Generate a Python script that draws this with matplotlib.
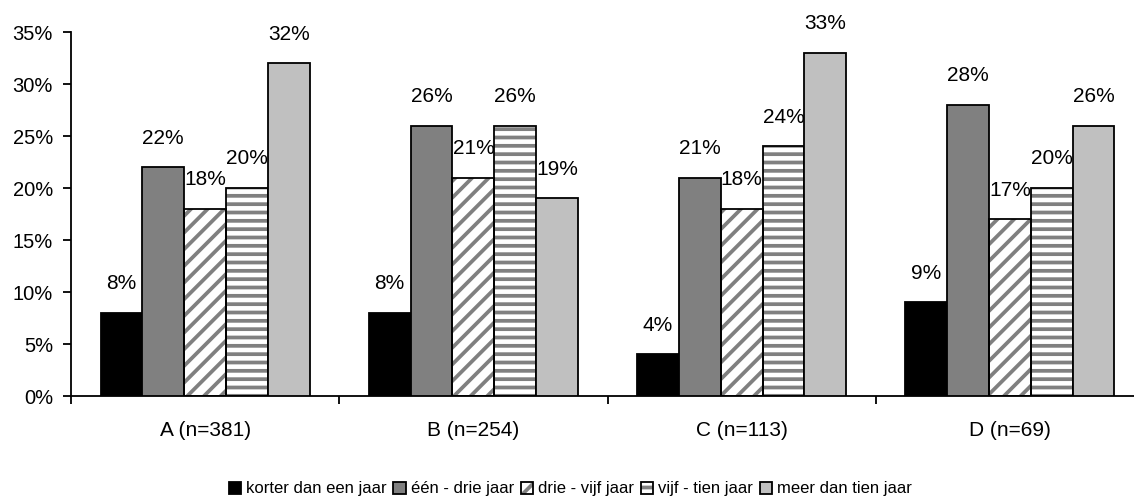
import numpy as np
import matplotlib
matplotlib.use('Agg')
import matplotlib.pyplot as plt
from matplotlib.patches import Patch

groups = ['A (n=381)', 'B (n=254)', 'C (n=113)', 'D (n=69)']
series = ['korter dan een jaar', 'één - drie jaar', 'drie - vijf jaar',
          'vijf - tien jaar', 'meer dan tien jaar']
values = {
    'korter dan een jaar': [8, 8, 4, 9],
    'één - drie jaar': [22, 26, 21, 28],
    'drie - vijf jaar': [18, 21, 18, 17],
    'vijf - tien jaar': [20, 26, 24, 20],
    'meer dan tien jaar': [32, 19, 33, 26],
}
yticks = [0, 5, 10, 15, 20, 25, 30, 35]


def main():
    plt.rcParams['font.family'] = ['Liberation Sans', 'DejaVu Sans']
    plt.rcParams['font.size'] = 15
    plt.rcParams['hatch.linewidth'] = 2.7

    fig = plt.figure(figsize=(11.34, 5.01), dpi=100)
    ax = fig.add_axes([71 / 1134, 1 - 396 / 501, 1073 / 1134, 364 / 501])

    # fill colour, hatch, hatch colour per series
    styles = [('black', None, None), ('#808080', None, None),
              ('white', '//', '#808080'), ('white', '--', '#808080'),
              ('#c0c0c0', None, None)]
    x = np.arange(len(groups))
    width = 0.156
    handles = []
    for i, (name, (fc, hatch, hc)) in enumerate(zip(series, styles)):
        pos = x + (i - 2) * width
        vals = values[name]
        if hatch:
            # hatch in grey, outline in black -> two layers
            ax.bar(pos, vals, width, color=fc, edgecolor=hc, hatch=hatch,
                   linewidth=0, zorder=2)
            ax.bar(pos, vals, width, fill=False, edgecolor='black',
                   linewidth=1.3, zorder=3)
            h = (Patch(facecolor=fc, edgecolor=hc, hatch=hatch, linewidth=0),
                 Patch(fill=False, edgecolor='black', linewidth=1.3))
        else:
            ax.bar(pos, vals, width, color=fc, edgecolor='black',
                   linewidth=1.3, zorder=3)
            h = Patch(facecolor=fc, edgecolor='black', linewidth=1.3)
        handles.append(h)
        for xp, v in zip(pos, vals):
            ax.annotate(f'{v}%', (xp, v), xytext=(0, 21),
                        textcoords='offset points', ha='center', va='center',
                        fontsize=15)

    ax.set_xlim(-0.5, len(groups) - 0.5)
    ax.set_ylim(0, 35)
    ax.set_yticks(yticks)
    ax.set_yticklabels([f'{t}%' for t in yticks], fontsize=14.5)
    ax.set_xticks(np.arange(len(groups) + 1) - 0.5)
    ax.set_xticklabels([])
    ax.set_xticks(x, minor=True)
    ax.set_xticklabels(groups, minor=True, fontsize=15)
    ax.tick_params(axis='x', which='minor', length=0, pad=18)
    ax.tick_params(axis='both', which='major', length=6, width=1.3,
                   direction='out')
    ax.tick_params(axis='y', pad=7)
    for s in ['top', 'right']:
        ax.spines[s].set_visible(False)
    for s in ['left', 'bottom']:
        ax.spines[s].set_linewidth(1.3)

    fig.legend(handles, series, loc='center', bbox_to_anchor=(0.503, 0.024),
               ncol=5, frameon=False, handlelength=0.75, handleheight=0.75,
               handletextpad=0.3, columnspacing=0.4, fontsize=12)
    fig.savefig('out.png', dpi=100)


if __name__ == '__main__':
    main()
